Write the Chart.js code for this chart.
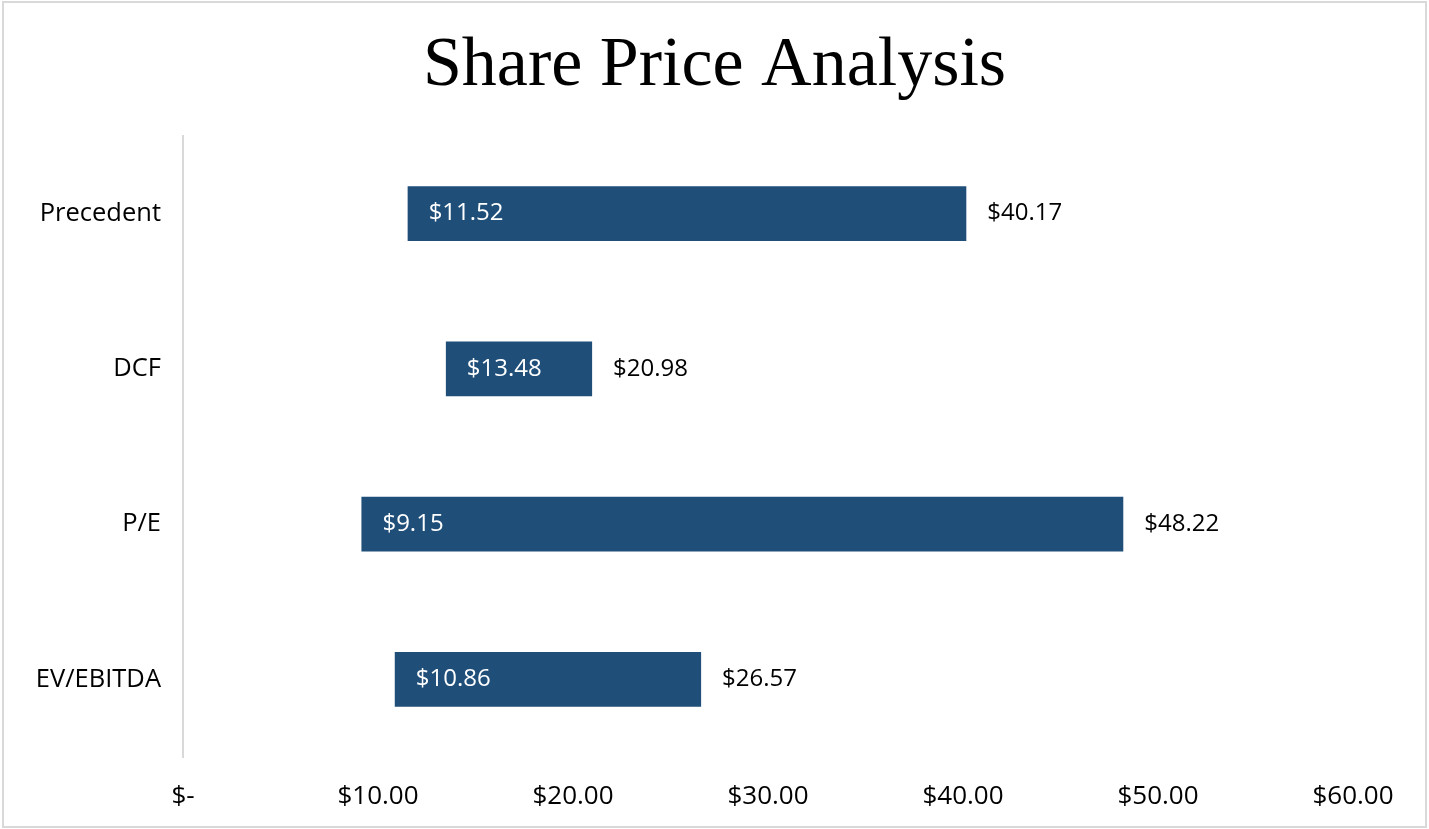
<!DOCTYPE html>
<html>
<head>
<meta charset="utf-8">
<script src="https://cdn.jsdelivr.net/npm/chart.js@4.4.1/dist/chart.umd.min.js"></script>
<style>
  html, body { margin: 0; padding: 0; background: #fff; }
  #wrap { position: relative; width: 1429px; height: 829px; }
  canvas { display: block; }
</style>
</head>
<body>
<div id="wrap"><canvas id="c" width="1429" height="829"></canvas></div>
<script>
const chartTitle = 'Share Price Analysis';
const categories = ['Precedent', 'DCF', 'P/E', 'EV/EBITDA'];
const lowValues = [11.52, 13.48, 9.15, 10.86];
const highValues = [40.17, 20.98, 48.22, 26.57];
const xTickValues = [0, 10, 20, 30, 40, 50, 60];
const xTickLabels = ['$-', '$10.00', '$20.00', '$30.00', '$40.00', '$50.00', '$60.00'];

const barColor = '#1F4E79';
const labelFont = '"Open Sans", "Liberation Sans", sans-serif';

function fmt(v) { return '$' + v.toFixed(2); }

const rangeLabels = {
  id: 'rangeLabels',
  afterDatasetsDraw(chart) {
    const ctx = chart.ctx;
    const meta = chart.getDatasetMeta(0);
    ctx.save();
    ctx.font = '24px ' + labelFont;
    ctx.textBaseline = 'middle';
    ctx.textAlign = 'left';
    meta.data.forEach((el, i) => {
      const p = el.getProps(['x', 'y', 'base'], true);
      const left = Math.min(p.x, p.base);
      const right = Math.max(p.x, p.base);
      ctx.fillStyle = '#ffffff';
      ctx.fillText(fmt(lowValues[i]), left + 21, p.y);
      ctx.fillStyle = '#000000';
      ctx.fillText(fmt(highValues[i]), right + 21, p.y);
    });
    ctx.restore();
  }
};

const frame = {
  id: 'frame',
  beforeDraw(chart) {
    const ctx = chart.ctx;
    ctx.save();
    ctx.fillStyle = '#ffffff';
    ctx.fillRect(0, 0, chart.width, chart.height);
    ctx.restore();
  },
  afterDraw(chart) {
    const ctx = chart.ctx;
    ctx.save();
    ctx.strokeStyle = '#d9d9d9';
    ctx.lineWidth = 2;
    ctx.strokeRect(3, 2, chart.width - 6, chart.height - 4);
    ctx.restore();
  }
};

new Chart(document.getElementById('c'), {
  type: 'bar',
  data: {
    labels: categories,
    datasets: [{
      data: lowValues.map((lo, i) => [lo, highValues[i]]),
      backgroundColor: barColor,
      borderWidth: 0,
      barPercentage: 0.354,
      categoryPercentage: 1.0
    }]
  },
  options: {
    indexAxis: 'y',
    responsive: false,
    animation: false,
    layout: { padding: { left: 0, right: 0, top: 0, bottom: 0 } },
    plugins: {
      legend: { display: false },
      tooltip: { enabled: false },
      title: {
        display: true,
        text: chartTitle,
        color: '#000000',
        font: { family: '"Liberation Serif", serif', size: 70, weight: 'normal' },
        padding: { top: 25, bottom: 27 }
      }
    },
    scales: {
      x: {
        type: 'linear',
        min: 0,
        max: 60,
        afterBuildTicks(scale) { scale.ticks = xTickValues.map(v => ({ value: v })); },
        afterFit(scale) { scale.height = 72; },
        grid: { display: false, drawTicks: false },
        border: { display: false },
        ticks: {
          padding: 24,
          color: '#000000',
          font: { family: labelFont, size: 26 },
          maxRotation: 0,
          callback(value) {
            const i = xTickValues.indexOf(value);
            return i >= 0 ? xTickLabels[i] : '';
          }
        }
      },
      y: {
        type: 'category',
        offset: true,
        grid: { display: false, drawTicks: false },
        border: { display: true, color: '#d9d9d9', width: 2 },
        afterFit(scale) { scale.width = 183; },
        ticks: {
          padding: 22,
          color: '#000000',
          font: { family: labelFont, size: 25.5 }
        }
      },
      yRightSpace: {
        type: 'category',
        axis: 'y',
        position: 'right',
        offset: true,
        grid: { display: false, drawTicks: false },
        border: { display: false },
        ticks: { display: false },
        afterFit(scale) { scale.width = 76; }
      }
    }
  },
  plugins: [frame, rangeLabels]
});
</script>
</body>
</html>
